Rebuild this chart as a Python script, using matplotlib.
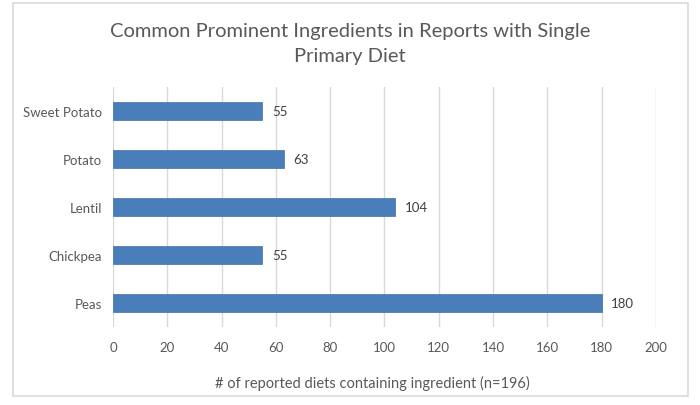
import matplotlib.pyplot as plt
from matplotlib.patches import Rectangle

# data (top to bottom in chart)
ingredients = ["Sweet Potato", "Potato", "Lentil", "Chickpea", "Peas"]
counts = [55, 63, 104, 55, 180]
x_ticks = [0, 20, 40, 60, 80, 100, 120, 140, 160, 180, 200]

plt.rcParams['font.family'] = ['Lato', 'DejaVu Sans']
text_col = '#595959'
bar_col = '#4a7ebb'

fig = plt.figure(figsize=(7, 4.06), dpi=100)
ax = fig.add_axes([113 / 700, 1 - 328 / 406, (656 - 113) / 700, (328 - 88) / 406])

# outer chart border
fig.patches.append(Rectangle((13 / 700, 1 - 397 / 406), 675 / 700, 393 / 406,
                             transform=fig.transFigure, fill=False,
                             edgecolor='#d9d9d9', linewidth=1.2))

ypos = list(range(len(ingredients)))[::-1]
ax.barh(ypos, counts, height=0.38, color=bar_col, edgecolor='#41719c', linewidth=0.5, zorder=3)
for y, v in zip(ypos, counts):
    ax.text(v + 3.5, y, str(v), va='center', ha='left', fontsize=9.5, color='#404040')

ax.set_xlim(0, 200)
ax.set_ylim(-0.5, len(ingredients) - 0.5)
ax.set_xticks(x_ticks)
ax.set_yticks(ypos)
ax.set_yticklabels(ingredients)
ax.tick_params(axis='both', length=0, labelsize=9.5, colors=text_col)
ax.tick_params(axis='x', pad=10)
ax.tick_params(axis='y', pad=8)
ax.xaxis.grid(True, color='#d9d9d9', linewidth=1, zorder=0)
for s in ax.spines.values():
    s.set_visible(False)

ax.set_xlabel("# of reported diets containing ingredient (n=196)", fontsize=10.5, color=text_col, labelpad=14)
ax.xaxis.set_label_coords((372 - 113) / 543, -(383 - 328) / 240 + 0.03)
fig.text(0.5, 1 - 44 / 406, "Common Prominent Ingredients in Reports with Single\nPrimary Diet",
         ha='center', va='center', fontsize=14.5, color=text_col, linespacing=1.6)

fig.savefig("out.png", dpi=100)
